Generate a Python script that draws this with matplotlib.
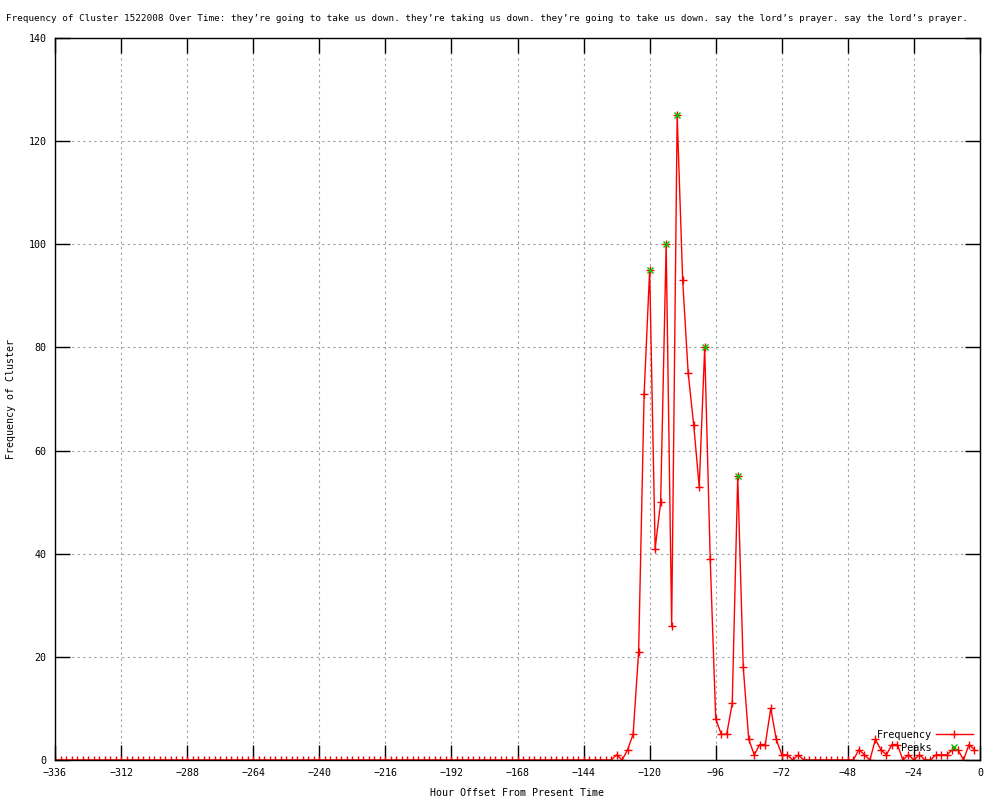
import numpy as np
import matplotlib.pyplot as plt

# hourly bins (2 h wide) relative to now
hours = list(range(-336, 0, 2))

# long quiet stretch before the burst
quiet = [0] * 102
burst = [1, 0, 2, 5, 21, 71, 95, 41, 50, 100, 26, 125, 93, 75, 65, 53, 80, 39,
         8, 5, 5, 11, 55, 18, 4, 1, 3, 3, 10, 4, 1, 1, 0, 1]
lull = [0] * 10
tail = [2, 1, 0, 4, 2, 1, 3, 3, 0, 1, 0, 1, 0, 0, 1, 1, 1, 2, 2, 0, 3, 2]
freq = quiet + burst + lull + tail

peak_hours = [-120, -114, -110, -100, -88]
peak_vals = [95, 100, 125, 80, 55]

title = ("Frequency of Cluster 1522008 Over Time: they\u2019re going to take us down. "
         "they\u2019re taking us down. they\u2019re going to take us down. "
         "say the lord\u2019s prayer. say the lord\u2019s prayer.")

plt.rcParams['font.family'] = ['DejaVu Sans Mono', 'DejaVu Sans']
plt.rcParams['font.size'] = 7.2

fig = plt.figure(figsize=(10, 8), dpi=100)
ax = fig.add_axes([0.055, 0.05, 0.925, 0.9025])

ax.plot(hours, freq, color='#ff0000', lw=1.0, marker='+', ms=5.5, mew=1.0,
        label='Frequency')
ax.plot(peak_hours, peak_vals, ls='none', color='#00c000', marker='x', ms=4.5,
        mew=1.0, label='Peaks')

ax.set_xlim(-336, 0)
ax.set_ylim(0, 140)
ax.set_xticks(range(-336, 1, 24))
ax.set_yticks(range(0, 141, 20))
ax.tick_params(direction='in', length=11, width=1, top=True, right=True,
               labelsize=7.2)
ax.tick_params(axis='x', pad=6)
ax.tick_params(axis='y', pad=6)
ax.grid(True, color='#a0a0a0', linestyle=(0, (2, 3)), lw=0.8)
for s in ax.spines.values():
    s.set_linewidth(1.0)

ax.set_xlabel('Hour Offset From Present Time', labelpad=7)
ax.set_ylabel('Frequency of Cluster', labelpad=9)
fig.text(0.006, 0.977, title, ha='left', va='center', fontsize=6.65)

ax.legend(loc='lower right', bbox_to_anchor=(1.0, 0.0), frameon=False,
          markerfirst=False, handlelength=3.6, labelspacing=0.3,
          fontsize=7.4, borderaxespad=0.3, handletextpad=0.4)

plt.savefig('out.png', dpi=100)
